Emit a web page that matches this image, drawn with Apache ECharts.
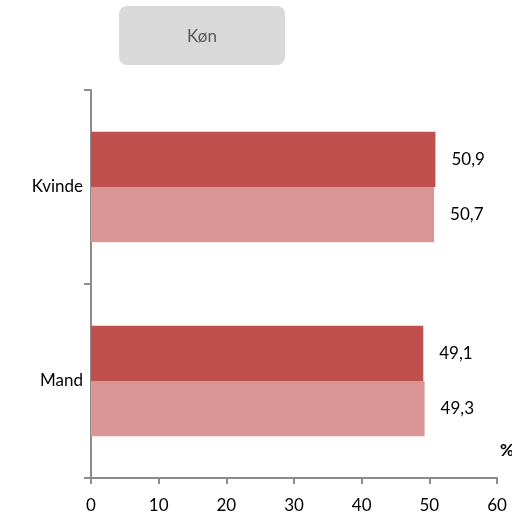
<!DOCTYPE html>
<html><head><meta charset="utf-8">
<script src="https://cdn.jsdelivr.net/npm/echarts@6/dist/echarts.min.js"></script>
<style>html,body{margin:0;padding:0;background:#fff}#c{width:512px;height:517px}</style>
</head><body><div id="c"></div>
<script>
const categories = ['Mand', 'Kvinde'];
const seriesDark = [49.1, 50.9];
const seriesLight = [49.3, 50.7];
const xTicks = [0, 10, 20, 30, 40, 50, 60];
const titleText = 'Køn';
const unitText = '%';

const font = 'Lato, "Open Sans", sans-serif';
const fs = 17;
const chart = echarts.init(document.getElementById('c'));
const fmt = p => String(p.value).replace('.', ',');
chart.setOption({
  animation: false,
  grid: { left: 91, right: 15, top: 90, bottom: 39 },
  xAxis: {
    type: 'value', min: xTicks[0], max: xTicks[xTicks.length - 1], interval: 10,
    axisLine: { show: true, lineStyle: { color: '#8c8c8c', width: 2 } },
    axisTick: { show: true, length: 6, lineStyle: { color: '#8c8c8c', width: 2 } },
    splitLine: { show: false },
    axisLabel: { color: '#000', fontSize: fs, fontFamily: font, margin: 19 }
  },
  yAxis: {
    type: 'category', data: categories,
    axisLine: { show: true, lineStyle: { color: '#8c8c8c', width: 2 } },
    axisTick: { show: true, length: 7, lineStyle: { color: '#8c8c8c', width: 2 } },
    axisLabel: { color: '#000', fontSize: fs, fontFamily: font, margin: 8, padding: [4, 0, 0, 0] }
  },
  series: [
    { type: 'bar', data: seriesDark, barGap: '0%', barCategoryGap: '43%',
      itemStyle: { color: '#c0504d' },
      label: { show: true, position: 'right', distance: 16, color: '#000', fontSize: fs, fontFamily: font, formatter: fmt, padding: [4, 0, 0, 0] } },
    { type: 'bar', data: seriesLight, barGap: '0%', barCategoryGap: '43%',
      itemStyle: { color: '#d99694' },
      label: { show: true, position: 'right', distance: 16, color: '#000', fontSize: fs, fontFamily: font, formatter: fmt, padding: [4, 0, 0, 0] } }
  ],
  graphic: [
    { type: 'group', left: 119, top: 6, children: [
      { type: 'rect', shape: { x: 0, y: 0, width: 166, height: 59, r: 8 }, style: { fill: '#d9d9d9' } },
      { type: 'text', x: 83, y: 31, style: { text: titleText, fill: '#595959', font: '17px ' + font, align: 'center', verticalAlign: 'middle' } }
    ] },
    { type: 'text', left: 500, top: 442, style: { text: unitText, fill: '#000', font: 'bold 17px ' + font } }
  ]
});
</script></body></html>
